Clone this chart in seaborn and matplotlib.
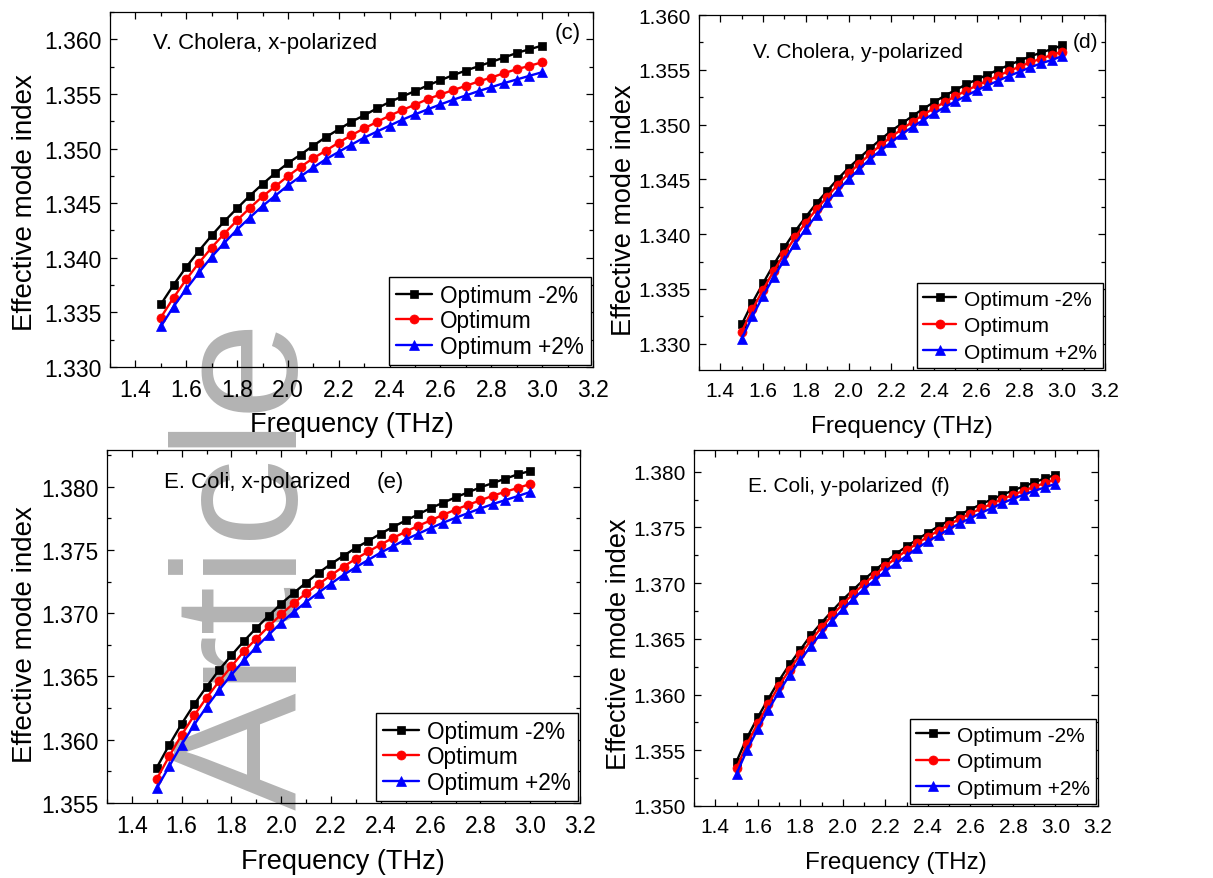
import numpy as np
import pandas as pd
import matplotlib
matplotlib.use("Agg")
import matplotlib.pyplot as plt
from matplotlib.ticker import MultipleLocator, FormatStrFormatter
import seaborn as sns

# ---------------- data ----------------
freq = [1.50, 1.55, 1.60, 1.65, 1.70, 1.75, 1.80, 1.85, 1.90, 1.95,
        2.00, 2.05, 2.10, 2.15, 2.20, 2.25, 2.30, 2.35, 2.40, 2.45,
        2.50, 2.55, 2.60, 2.65, 2.70, 2.75, 2.80, 2.85, 2.90, 2.95, 3.00]

series_labels = ["Optimum -2%", "Optimum", "Optimum +2%"]

# (c) V. Cholera, x-polarized
vcx_m2 = [1.33574, 1.33751, 1.33915, 1.34064, 1.34204, 1.34334, 1.34453, 1.34568, 1.34675, 1.34775,
          1.34866, 1.34945, 1.35027, 1.35106, 1.35176, 1.35246, 1.35304, 1.35368, 1.35426, 1.35477,
          1.35526, 1.35578, 1.35626, 1.35672, 1.35714, 1.35754, 1.35793, 1.35833, 1.35875, 1.35909, 1.35942]
vcx_opt = [1.33453, 1.33635, 1.33802, 1.33954, 1.34094, 1.34222, 1.34343, 1.34456, 1.34562, 1.34653,
           1.34748, 1.34833, 1.34912, 1.34982, 1.35055, 1.35122, 1.35185, 1.35243, 1.35301, 1.35353,
           1.35401, 1.35453, 1.35495, 1.35535, 1.35574, 1.35614, 1.35650, 1.35690, 1.35726, 1.35757, 1.35790]
vcx_p2 = [1.33371, 1.33553, 1.33714, 1.33866, 1.34009, 1.34137, 1.34258, 1.34368, 1.34474, 1.34568,
          1.34663, 1.34745, 1.34827, 1.34903, 1.34970, 1.35036, 1.35100, 1.35155, 1.35210, 1.35264,
          1.35313, 1.35359, 1.35404, 1.35447, 1.35486, 1.35526, 1.35562, 1.35599, 1.35632, 1.35666, 1.35699]

# (d) V. Cholera, y-polarized
vcy_m2 = [1.33177, 1.33375, 1.33552, 1.33725, 1.33881, 1.34027, 1.34158, 1.34283, 1.34395, 1.34505,
          1.34605, 1.34694, 1.34782, 1.34864, 1.34943, 1.35010, 1.35080, 1.35144, 1.35205, 1.35263,
          1.35315, 1.35367, 1.35412, 1.35455, 1.35501, 1.35543, 1.35583, 1.35622, 1.35656, 1.35689, 1.35723]
vcy_opt = [1.33110, 1.33314, 1.33494, 1.33664, 1.33823, 1.33972, 1.34106, 1.34228, 1.34340, 1.34453,
           1.34554, 1.34642, 1.34730, 1.34812, 1.34889, 1.34959, 1.35026, 1.35090, 1.35150, 1.35205,
           1.35260, 1.35309, 1.35357, 1.35400, 1.35446, 1.35488, 1.35528, 1.35568, 1.35601, 1.35635, 1.35665]
vcy_p2 = [1.33046, 1.33250, 1.33436, 1.33610, 1.33765, 1.33914, 1.34048, 1.34173, 1.34292, 1.34398,
          1.34502, 1.34593, 1.34685, 1.34764, 1.34840, 1.34913, 1.34980, 1.35041, 1.35102, 1.35160,
          1.35211, 1.35263, 1.35312, 1.35357, 1.35400, 1.35443, 1.35482, 1.35522, 1.35558, 1.35589, 1.35625]

# (e) E. Coli, x-polarized
ecx_m2 = [1.35780, 1.35959, 1.36126, 1.36279, 1.36419, 1.36551, 1.36667, 1.36780, 1.36883, 1.36981,
          1.37076, 1.37160, 1.37242, 1.37319, 1.37390, 1.37454, 1.37517, 1.37572, 1.37630, 1.37683,
          1.37733, 1.37781, 1.37831, 1.37873, 1.37916, 1.37955, 1.37995, 1.38029, 1.38063, 1.38098, 1.38124]
ecx_opt = [1.35690, 1.35870, 1.36039, 1.36192, 1.36332, 1.36461, 1.36580, 1.36699, 1.36799, 1.36897,
           1.36992, 1.37079, 1.37158, 1.37229, 1.37300, 1.37369, 1.37430, 1.37488, 1.37543, 1.37596,
           1.37644, 1.37691, 1.37733, 1.37778, 1.37818, 1.37857, 1.37892, 1.37929, 1.37960, 1.37990, 1.38021]
ecx_p2 = [1.35616, 1.35790, 1.35962, 1.36118, 1.36260, 1.36392, 1.36514, 1.36627, 1.36733, 1.36830,
          1.36926, 1.37010, 1.37089, 1.37163, 1.37234, 1.37303, 1.37364, 1.37422, 1.37480, 1.37530,
          1.37583, 1.37628, 1.37673, 1.37715, 1.37754, 1.37791, 1.37828, 1.37863, 1.37894, 1.37926, 1.37958]

# (f) E. Coli, y-polarized
ecy_m2 = [1.35399, 1.35616, 1.35796, 1.35964, 1.36126, 1.36273, 1.36402, 1.36535, 1.36646, 1.36751,
          1.36853, 1.36943, 1.37033, 1.37114, 1.37192, 1.37264, 1.37330, 1.37393, 1.37453, 1.37511,
          1.37562, 1.37616, 1.37661, 1.37709, 1.37751, 1.37793, 1.37832, 1.37868, 1.37904, 1.37940, 1.37973]
ecy_opt = [1.35339, 1.35559, 1.35742, 1.35916, 1.36078, 1.36225, 1.36360, 1.36486, 1.36604, 1.36712,
           1.36814, 1.36907, 1.36994, 1.37075, 1.37153, 1.37225, 1.37294, 1.37357, 1.37417, 1.37471,
           1.37526, 1.37577, 1.37625, 1.37670, 1.37712, 1.37754, 1.37793, 1.37829, 1.37865, 1.37898, 1.37931]
ecy_p2 = [1.35288, 1.35505, 1.35691, 1.35865, 1.36024, 1.36177, 1.36309, 1.36435, 1.36556, 1.36664,
          1.36766, 1.36859, 1.36949, 1.37027, 1.37108, 1.37177, 1.37246, 1.37315, 1.37375, 1.37429,
          1.37486, 1.37538, 1.37583, 1.37631, 1.37673, 1.37718, 1.37757, 1.37793, 1.37829, 1.37859, 1.37892]

panel_titles = ["V. Cholera, x-polarized", "V. Cholera, y-polarized",
                "E. Coli, x-polarized", "E. Coli, y-polarized"]
panel_tags = ["(c)", "(d)", "(e)", "(f)"]
x_label = "Frequency (THz)"
y_label = "Effective mode index"
watermark = "Article"

# ---------------- style ----------------
sns.set_theme(style="ticks")
plt.rcParams["font.family"] = ["Liberation Sans", "DejaVu Sans"]
plt.rcParams["axes.linewidth"] = 0.9
for key in ["text.color", "axes.labelcolor", "xtick.color", "ytick.color",
            "xtick.labelcolor", "ytick.labelcolor", "axes.edgecolor"]:
    plt.rcParams[key] = "black"

W, H = 1213, 879
fig = plt.figure(figsize=(W / 100, H / 100), dpi=100)
fig.patch.set_facecolor("white")

colors = ["#000000", "#ff0000", "#0000ff"]
markers = ["s", "o", "^"]
msizes = [5.5, 6.5, 7.0]

# axes boxes in pixels: left, top, right, bottom
boxes = [(110, 13, 593, 368), (699, 16, 1105, 371),
         (107, 451, 580, 804), (694, 451, 1098, 807)]
ylims = [(1.330, 1.3625), (1.3276, 1.360), (1.355, 1.3829), (1.350, 1.38195)]
yticks = [np.arange(1.330, 1.3601, 0.005), np.arange(1.330, 1.3601, 0.005),
          np.arange(1.355, 1.3801, 0.005), np.arange(1.350, 1.3801, 0.005)]
data_sets = [(vcx_m2, vcx_opt, vcx_p2), (vcy_m2, vcy_opt, vcy_p2),
             (ecx_m2, ecx_opt, ecx_p2), (ecy_m2, ecy_opt, ecy_p2)]
# font sizes per panel (left panels slightly wider in the source)
tick_fs = [16.5, 15, 16.5, 15]
ann_fs = [16, 15, 16, 15]
leg_fs = [16.3, 15.0, 16.3, 15.0]
leg_sp = [0.12, 0.36, 0.12, 0.36]
xl_fs = [19.5, 17.5, 19.5, 17.5]
yl_fs = [20, 19.5, 20, 19.5]
# label centres (pixels)
xlab_pos = [(352, 425), (902, 427), (343, 862), (896, 863)]
ylab_pos = [(25, 203), (624, 210), (25, 635), (619, 644)]
ann_pos = [(153, 44), (753, 52), (164, 483), (748, 487)]
tag_pos = [(555, 34), (1073, 43), (377, 483), (931, 487)]


def fx(px):
    return px / W


def fy(py):
    return 1 - py / H


for i in range(4):
    l, t, r, b = boxes[i]
    ax = fig.add_axes([fx(l), fy(b), (r - l) / W, (b - t) / H])
    ax.patch.set_alpha(0)
    for k in range(3):
        df = pd.DataFrame({"freq": freq, "neff": data_sets[i][k]})
        sns.lineplot(data=df, x="freq", y="neff", ax=ax, color=colors[k],
                     marker=markers[k], markersize=msizes[k],
                     markeredgecolor=colors[k], markeredgewidth=0.5,
                     linewidth=1.7, label=series_labels[k])
    ax.set_xlim(1.3, 3.2)
    ax.set_ylim(*ylims[i])
    ax.set_xticks(np.arange(1.4, 3.21, 0.2))
    ax.set_yticks(yticks[i])
    ax.xaxis.set_minor_locator(MultipleLocator(0.1))
    ax.yaxis.set_minor_locator(MultipleLocator(0.0025))
    ax.xaxis.set_major_formatter(FormatStrFormatter("%.1f"))
    ax.yaxis.set_major_formatter(FormatStrFormatter("%.3f"))
    ax.tick_params(which="both", direction="in", top=True, right=True,
                   color="black", labelcolor="black", width=0.9)
    ax.tick_params(which="major", length=5, labelsize=tick_fs[i], pad=6)
    ax.tick_params(which="minor", length=3)
    ax.tick_params(axis="x", which="major", pad=8)
    for s in ax.spines.values():
        s.set_color("black")
        s.set_visible(True)

    ax.set_xlabel(x_label, fontsize=xl_fs[i], va="center", ha="center", color="black")
    ax.xaxis.set_label_coords(fx(xlab_pos[i][0]), fy(xlab_pos[i][1]), transform=fig.transFigure)
    ax.set_ylabel(y_label, fontsize=yl_fs[i], va="center", ha="center", color="black")
    ax.yaxis.set_label_coords(fx(ylab_pos[i][0]), fy(ylab_pos[i][1]), transform=fig.transFigure)

    leg = ax.legend(loc="lower right", bbox_to_anchor=(1.0, 0.0), fontsize=leg_fs[i],
                    frameon=True, fancybox=False, edgecolor="black", framealpha=1,
                    facecolor="white", handlelength=1.6, handletextpad=0.35,
                    borderpad=0.3, labelspacing=leg_sp[i], borderaxespad=0.1)
    leg.get_frame().set_linewidth(1.0)
    for txt in leg.get_texts():
        txt.set_color("black")

    fig.text(fx(ann_pos[i][0]), fy(ann_pos[i][1]), panel_titles[i], fontsize=ann_fs[i],
             ha="left", va="center", color="black")
    fig.text(fx(tag_pos[i][0]), fy(tag_pos[i][1]), panel_tags[i], fontsize=ann_fs[i],
             ha="left", va="center", color="black")

# gray watermark behind the plots
fig.text(fx(297), fy(320), watermark, fontsize=127, rotation=90, rotation_mode="anchor",
         ha="right", va="baseline", color="#b3b3b3", zorder=-5)

fig.savefig("out.png", dpi=100, facecolor="white")
